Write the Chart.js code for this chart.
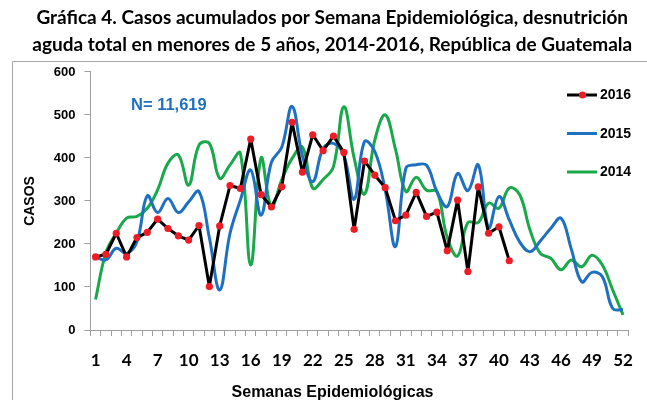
<!DOCTYPE html>
<html>
<head>
<meta charset="utf-8">
<script src="https://cdn.jsdelivr.net/npm/chart.js@4.4.1/dist/chart.umd.min.js"></script>
<style>
  html, body { margin: 0; padding: 0; background: #fff; }
  #wrap { width: 647px; height: 400px; }
</style>
</head>
<body>
<div id="wrap"><canvas id="chart" width="647" height="400"></canvas></div>
<script>
const weeks = ["1","2","3","4","5","6","7","8","9","10","11","12","13","14","15","16","17","18","19","20","21","22","23","24","25","26","27","28","29","30","31","32","33","34","35","36","37","38","39","40","41","42","43","44","45","46","47","48","49","50","51","52"];

const casos2016 = [170,176,225,170,215,227,258,236,219,209,243,101,242,336,329,444,315,286,333,483,367,454,417,451,413,234,393,360,331,254,267,320,264,274,184,302,136,333,225,240,161];
const casos2015 = [170,163,190,178,205,312,273,306,273,298,322,215,93,225,302,372,267,390,425,520,405,345,422,434,407,304,438,415,326,194,376,384,383,322,287,364,324,384,238,310,256,205,182,207,236,260,188,112,134,124,50,47];
const casos2014 = [71,180,225,260,264,283,326,388,407,337,430,434,353,384,411,151,400,287,349,399,425,330,350,380,519,400,316,442,500,420,322,355,325,322,215,172,250,250,295,283,330,315,233,178,167,140,163,147,174,151,93,35];

const yTicks = [0, 100, 200, 300, 400, 500, 600];

const titleLines = [
  "Gráfica 4. Casos acumulados por Semana Epidemiológica, desnutrición",
  "aguda total en menores de 5 años, 2014-2016, República de Guatemala"
];
const totalText = "N= 11,619";
const xTitle = "Semanas Epidemiológicas";

const axisGray = "#a0a0a0";
const arial = "'Liberation Sans', Arial, sans-serif";

// frame, N label, x title and the legend on the right
const extras = {
  id: "extras",
  beforeDraw(chart) {
    const ctx = chart.ctx;
    ctx.save();
    ctx.strokeStyle = "#a6a6a6";
    ctx.lineWidth = 1;
    ctx.beginPath();
    ctx.moveTo(12.5, 405);
    ctx.lineTo(12.5, 61.5);
    ctx.lineTo(650, 61.5);
    ctx.stroke();
    ctx.restore();
  },
  afterDraw(chart) {
    const ctx = chart.ctx;
    ctx.save();
    ctx.textBaseline = "middle";

    ctx.font = "bold 16px " + arial;
    ctx.fillStyle = "#000";
    ctx.textAlign = "center";
    ctx.fillText(xTitle, 332.5, 393);

    ctx.textAlign = "left";
    ctx.font = "bold 16.5px " + arial;
    ctx.fillStyle = "#1f70c1";
    ctx.fillText(totalText, 131, 105);

    const rows = [95, 133.5, 172];
    chart.data.datasets.forEach((ds, i) => {
      const y = rows[i];
      ctx.strokeStyle = ds.borderColor;
      ctx.lineWidth = 3;
      ctx.beginPath();
      ctx.moveTo(567, y);
      ctx.lineTo(597, y);
      ctx.stroke();
      if (ds.pointRadius > 0) {
        ctx.fillStyle = ds.pointBackgroundColor;
        ctx.beginPath();
        ctx.arc(582.5, y, 3.6, 0, Math.PI * 2);
        ctx.fill();
      }
      ctx.fillStyle = "#000";
      ctx.font = "bold 14px " + arial;
      ctx.fillText(ds.label, 600, y + 0.5);
    });
    ctx.restore();
  }
};

new Chart(document.getElementById("chart"), {
  type: "line",
  data: {
    labels: weeks,
    datasets: [
      {
        label: "2016",
        data: casos2016,
        borderColor: "#000000",
        borderWidth: 3,
        borderJoinStyle: "round",
        borderCapStyle: "round",
        tension: 0,
        pointRadius: 3.6,
        pointBorderWidth: 0,
        pointBackgroundColor: "#ee1c25",
        pointBorderColor: "#ee1c25"
      },
      {
        label: "2015",
        data: casos2015,
        borderColor: "#1f70c1",
        borderWidth: 3,
        borderJoinStyle: "round",
        tension: 0.4,
        pointRadius: 0
      },
      {
        label: "2014",
        data: casos2014,
        borderColor: "#19a84a",
        borderWidth: 3,
        borderJoinStyle: "round",
        tension: 0.4,
        pointRadius: 0
      }
    ]
  },
  options: {
    responsive: false,
    animation: false,
    layout: { padding: { left: 27, right: 9.5, top: 0, bottom: 0 } },
    plugins: {
      legend: { display: false },
      tooltip: { enabled: false },
      title: {
        display: true,
        text: titleLines,
        color: "#000",
        font: { family: "Lato, sans-serif", size: 19, weight: "bold", lineHeight: 1.42 },
        padding: { top: 4.5, bottom: 13.5 }
      }
    },
    scales: {
      x: {
        offset: true,
        border: { display: true, color: axisGray, width: 1 },
        grid: { display: true, drawOnChartArea: false, drawTicks: true, tickLength: 6, offset: true, color: axisGray },
        ticks: {
          autoSkip: false,
          maxRotation: 0,
          padding: 14,
          color: "#000",
          font: { family: "Lato, sans-serif", size: 17, weight: "bold" },
          callback(value, index) {
            return index % 3 === 0 ? this.getLabelForValue(value) : "";
          }
        },
        afterFit(scale) { scale.height = 70; }
      },
      y: {
        min: 0,
        max: 600,
        border: { display: true, color: axisGray, width: 1 },
        grid: { display: true, drawOnChartArea: false, drawTicks: true, tickLength: 6, color: axisGray },
        afterBuildTicks(scale) { scale.ticks = yTicks.map(v => ({ value: v })); },
        ticks: {
          padding: 9,
          color: "#000",
          font: { family: arial, size: 13, weight: "bold" }
        },
        title: {
          display: true,
          text: "CASOS",
          color: "#000",
          font: { family: arial, size: 14, weight: "bold", lineHeight: 1.2 },
          padding: { top: -5.4, bottom: 0 }
        },
        afterFit(scale) { scale.width = 90.4 - 27; }
      }
    }
  },
  plugins: [extras]
});
</script>
</body>
</html>
